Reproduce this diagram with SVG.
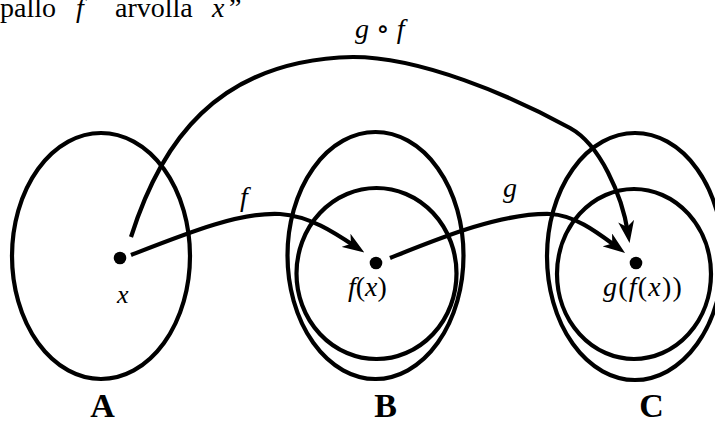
<svg xmlns="http://www.w3.org/2000/svg" width="715" height="421" viewBox="0 0 715 421">
<style>
.set{fill:none;stroke:#000;stroke-width:4.2}
.arr{fill:none;stroke:#000;stroke-width:4.2;marker-end:url(#ah)}
.t{font-family:"Liberation Serif","Times New Roman",serif;fill:#000}
.i{font-style:italic}
.b{font-weight:bold;font-size:34px;text-anchor:middle}
.op{font-family:"DejaVu Serif",serif;font-style:normal}
</style>
<defs>
<marker id="ah" viewBox="0 0 22 16" refX="12" refY="8" markerWidth="22" markerHeight="16" markerUnits="userSpaceOnUse" orient="auto">
<path d="M0,0 L22,8 L0,16 L6,8 Z" fill="#000"/>
</marker>
</defs>
<rect width="715" height="421" fill="#fff"/>
<g id="caption" class="t" font-size="28">
<text x="0" y="17">pallo</text>
<text x="76" y="17" class="i">f</text>
<text x="115" y="17">arvolla</text>
<text x="212" y="17" class="i">x</text>
<text x="229" y="17">”</text>
</g>
<g id="setA"><ellipse class="set" cx="101" cy="256" rx="89" ry="123"/></g>
<g id="setB"><ellipse class="set" cx="375.5" cy="255.5" rx="88" ry="123.5"/><ellipse class="set" cx="376.5" cy="273.5" rx="80" ry="85.5"/></g>
<g id="setC"><ellipse class="set" cx="635" cy="256.5" rx="88" ry="123.5"/><ellipse class="set" cx="634" cy="274" rx="77" ry="85"/></g>
<g id="connectors">
<path class="arr" d="M131,255 C190,232 240,212 280,214 C310,216 335,233 356,247"/>
<path class="arr" d="M390,258 C440,238 500,213 550,214 C575,215 598,233 617,247"/>
<path class="arr" d="M131,237 C160,145 215,60 353,57 C420,57 510,95 570,128 C600,144.5 622,195 628,233"/>
</g>
<g id="nodeX"><circle cx="120" cy="258" r="6.3"/><text class="t i" x="117" y="303" font-size="26">x</text></g>
<g id="nodeFX"><circle cx="376" cy="263" r="6.3"/><text class="t" x="348" y="296" font-size="28"><tspan class="i">f</tspan>(<tspan class="i">x</tspan>)</text></g>
<g id="nodeGFX"><circle cx="636" cy="263" r="6.3"/><text class="t" x="603" y="296" font-size="28" letter-spacing="1.2"><tspan class="i">g</tspan>(<tspan class="i">f</tspan>(<tspan class="i">x</tspan>))</text></g>
<g id="labels" class="t">
<text x="355" y="38" font-size="28"><tspan class="i">g</tspan> <tspan class="op" font-size="28">∘</tspan> <tspan class="i">f</tspan></text>
<text x="240" y="206" font-size="28" class="i">f</text>
<text x="503" y="197" font-size="28" class="i">g</text>
<text x="102.5" y="417" class="b">A</text>
<text x="385.5" y="417" class="b">B</text>
<text x="651.5" y="417" class="b">C</text>
</g>
</svg>
